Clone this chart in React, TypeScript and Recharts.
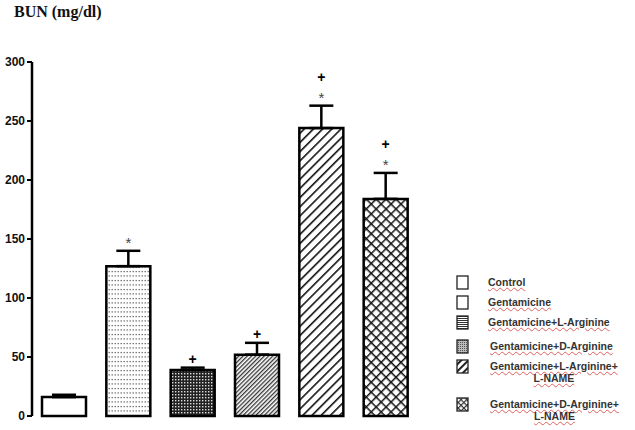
import React from 'react';
import { BarChart, Bar, XAxis, YAxis, ErrorBar, Cell, LabelList } from 'recharts';

const groups = [
  'Control',
  'Gentamicine',
  'Gentamicine+L-Arginine',
  'Gentamicine+D-Arginine',
  'Gentamicine+L-Arginine+L-NAME',
  'Gentamicine+D-Arginine+L-NAME',
];
const means = [16, 127, 39, 52, 244, 184];
const errs = [2, 13, 2, 10, 19, 22];
const marks = ['', '*', '+', '+', '+*', '+*'];
const yTicks = [0, 50, 100, 150, 200, 250, 300];

// legend text, as printed (two-line entries split)
const legendLines = [
  ['Control'],
  ['Gentamicine'],
  ['Gentamicine+L-Arginine'],
  ['Gentamicine+D-Arginine'],
  ['Gentamicine+L-Arginine+', 'L-NAME'],
  ['Gentamicine+D-Arginine+', 'L-NAME'],
];

const fills = ['#fff', 'url(#pDots)', 'url(#pGrid)', 'url(#pFine)', 'url(#pWide)', 'url(#pCross)'];
const legendFills = ['#fff', '#fff', 'url(#lLines)', 'url(#lDots)', 'url(#lWide)', 'url(#lCheck)'];

const data = groups.map((g, i) => ({ name: g, value: means[i], err: [0, errs[i]], mark: marks[i] }));

const Marks = (props: any) => {
  const { x, y, width, height, value, index } = props;
  if (!value) return null;
  const pxPerUnit = height / means[index];
  const capY = y - errs[index] * pxPerUnit;
  const cx = x + width / 2;
  const hasStar = value.includes('*');
  const hasPlus = value.includes('+');
  return (
    <g>
      {hasStar && (
        <text x={cx} y={capY - 3} textAnchor="middle" fontSize={15} fill="#444" fontFamily="Liberation Sans">
          *
        </text>
      )}
      {hasPlus && (
        <text
          x={cx}
          y={hasStar ? capY - 24 : capY - 4}
          textAnchor="middle"
          fontSize={14}
          fontWeight="bold"
          fill="#000"
          fontFamily="Liberation Sans"
        >
          +
        </text>
      )}
    </g>
  );
};

const Legend6 = () => {
  const rows = [283, 303, 323, 347, 367, 405];
  return (
    <div style={{ position: 'absolute', left: 0, top: 0, width: 635, height: 430, pointerEvents: 'none' }}>
      <svg width={635} height={430} style={{ position: 'absolute', left: 0, top: 0 }}>
        <defs>
          <pattern id="lLines" width="3" height="2" patternUnits="userSpaceOnUse">
            <rect width="3" height="2" fill="#fff" />
            <rect width="3" height="1" fill="#333" />
          </pattern>
          <pattern id="lDots" width="2" height="2" patternUnits="userSpaceOnUse">
            <rect width="2" height="2" fill="#bbb" />
            <rect width="1" height="1" fill="#555" />
          </pattern>
          <pattern id="lWide" width="5" height="5" patternUnits="userSpaceOnUse" patternTransform="rotate(45)">
            <rect width="5" height="5" fill="#fff" />
            <rect width="2" height="5" fill="#222" />
          </pattern>
          <pattern id="lCheck" width="4" height="4" patternUnits="userSpaceOnUse" patternTransform="rotate(45)">
            <rect width="4" height="4" fill="#fff" />
            <rect width="1.2" height="4" fill="#333" />
            <rect width="4" height="1.2" fill="#333" />
          </pattern>
        </defs>
        {rows.map((cy, i) => (
          <rect key={i} x={457} y={cy - 7} width={11} height={13} fill={legendFills[i]} stroke="#222" strokeWidth={1.3} />
        ))}
      </svg>
      {legendLines.map((lines, i) => (
        <div
          key={i}
          style={{
            position: 'absolute',
            left: i < 3 ? 488 : 490,
            top: rows[i] - 7,
            fontFamily: 'Liberation Sans, Arial, sans-serif',
            fontWeight: 'bold',
            fontSize: 10.5,
            lineHeight: '12px',
            color: '#333',
            textAlign: 'center',
          }}
        >
          {lines.map((t, j) => (
            <div key={j} style={{ textDecoration: 'underline wavy #e06060', textDecorationThickness: 1 }}>
              {t}
            </div>
          ))}
        </div>
      ))}
    </div>
  );
};

export default function App() {
  return (
    <div style={{ position: 'fixed', left: 0, top: 0, width: 635, height: 430, background: '#fff' }}>
      <div
        style={{
          position: 'absolute',
          left: 14,
          top: 3,
          fontFamily: 'Liberation Serif, Times New Roman, serif',
          fontWeight: 'bold',
          fontSize: 16,
          color: '#111',
        }}
      >
        BUN (mg/dl)
      </div>
      <BarChart
        width={635}
        height={430}
        data={data}
        margin={{ top: 62, right: 217, bottom: 14, left: 4 }}
        barCategoryGap={10}
      >
        <defs>
          <pattern id="pDots" width="3" height="4.5" patternUnits="userSpaceOnUse">
            <rect width="3" height="4.5" fill="#fff" />
            <rect x="0.5" y="1" width="1.4" height="1" fill="#444" />
          </pattern>
          <pattern id="pGrid" width="3" height="3" patternUnits="userSpaceOnUse">
            <rect width="3" height="3" fill="#222" />
            <rect x="1" y="1" width="1.4" height="1.4" fill="#ddd" />
          </pattern>
          <pattern id="pFine" width="3" height="3" patternUnits="userSpaceOnUse" patternTransform="rotate(45)">
            <rect width="3" height="3" fill="#fff" />
            <rect width="1.3" height="3" fill="#333" />
          </pattern>
          <pattern id="pWide" width="6.5" height="6.5" patternUnits="userSpaceOnUse" patternTransform="rotate(45)">
            <rect width="6.5" height="6.5" fill="#fff" />
            <rect width="1.6" height="6.5" fill="#111" />
          </pattern>
          <pattern id="pCross" width="7" height="7" patternUnits="userSpaceOnUse" patternTransform="rotate(45)">
            <rect width="7" height="7" fill="#fff" />
            <rect width="1.5" height="7" fill="#111" />
            <rect width="7" height="1.5" fill="#111" />
          </pattern>
        </defs>
        <XAxis dataKey="name" tick={false} tickLine={false} axisLine={{ stroke: '#000', strokeWidth: 2.5 }} height={0} />
        <YAxis
          domain={[0, 300]}
          ticks={yTicks}
          width={28}
          tickSize={5}
          tickLine={{ stroke: '#000', strokeWidth: 2 }}
          axisLine={{ stroke: '#000', strokeWidth: 2.5 }}
          tick={{ fill: '#111', fontSize: 12, fontWeight: 'bold', fontFamily: 'Liberation Sans Narrow, Arial Narrow, sans-serif' }}
          tickMargin={2}
          interval={0}
        />
        <Bar dataKey="value" isAnimationActive={false} stroke="#000" strokeWidth={2.5}>
          {data.map((d, i) => (
            <Cell key={d.name} fill={fills[i]} stroke="#000" strokeWidth={2.5} />
          ))}
          <ErrorBar dataKey="err" width={12} strokeWidth={2.5} stroke="#000" direction="y" />
          <LabelList dataKey="mark" content={Marks} />
        </Bar>
      </BarChart>
      <Legend6 />
    </div>
  );
}
